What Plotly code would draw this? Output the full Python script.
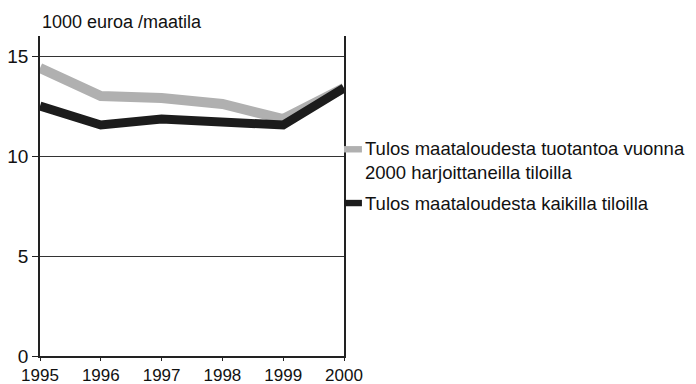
import plotly.graph_objects as go

years = [1995, 1996, 1997, 1998, 1999, 2000]
tulos_tuotantoa = [14.4, 13.0, 12.9, 12.6, 11.85, 13.4]
tulos_kaikki = [12.5, 11.55, 11.85, 11.7, 11.55, 13.4]
legend_labels = ["Tulos maataloudesta tuotantoa vuonna<br>2000 harjoittaneilla tiloilla",
                 "Tulos maataloudesta kaikilla tiloilla"]
y_title = "1000 euroa /maatila"

FONT = "Liberation Sans, Arial, sans-serif"
GRAY = "#b0b0b0"
BLACK = "#1c1c1c"

fig = go.Figure()
fig.add_trace(go.Scatter(x=years, y=tulos_tuotantoa, mode="lines",
                         line=dict(color=GRAY, width=10), showlegend=False))
fig.add_trace(go.Scatter(x=years, y=tulos_kaikki, mode="lines",
                         line=dict(color=BLACK, width=9), showlegend=False))

fig.update_layout(
    width=696, height=384,
    margin=dict(l=40, r=352, t=36, b=28),
    paper_bgcolor="white", plot_bgcolor="white",
    font=dict(family=FONT, size=18, color="#111"),
    xaxis=dict(range=[1995, 2000], tickvals=years, ticktext=[str(y) for y in years],
               showgrid=False, showline=True, linecolor="#222", linewidth=1.5,
               ticks="outside", ticklen=3, tickcolor="#222", zeroline=False,
               tickfont=dict(size=17), automargin=False),
    yaxis=dict(range=[0, 16], tickvals=[0, 5, 10, 15],
               showgrid=True, gridcolor="#333", gridwidth=1,
               showline=True, linecolor="#222", linewidth=1.5, mirror=True,
               ticks="outside", ticklen=6, tickcolor="#222", zeroline=False,
               tickfont=dict(size=19), automargin=False),
    annotations=[
        dict(text=y_title, xref="paper", yref="paper", x=0, y=1.0, xanchor="left",
             yanchor="bottom", yshift=2, showarrow=False, font=dict(size=18)),
        dict(text=legend_labels[0], xref="paper", yref="paper", x=1.0, y=0.688,
             xanchor="left", yanchor="top", xshift=19, showarrow=False, align="left",
             font=dict(size=18.5)),
        dict(text=legend_labels[1], xref="paper", yref="paper", x=1.0, y=0.478,
             xanchor="left", yanchor="middle", xshift=19, showarrow=False, align="left",
             font=dict(size=18.5)),
    ],
    shapes=[
        dict(type="rect", xref="paper", yref="paper", x0=1.0, x1=1.059,
             y0=0.636, y1=0.656, fillcolor=GRAY, line=dict(width=0)),
        dict(type="rect", xref="paper", yref="paper", x0=1.0, x1=1.059,
             y0=0.468, y1=0.488, fillcolor=BLACK, line=dict(width=0)),
    ],
)

fig.write_html("out.html", config={"displayModeBar": False},
               post_script="document.body.style.margin='0';document.body.style.overflow='hidden';")
